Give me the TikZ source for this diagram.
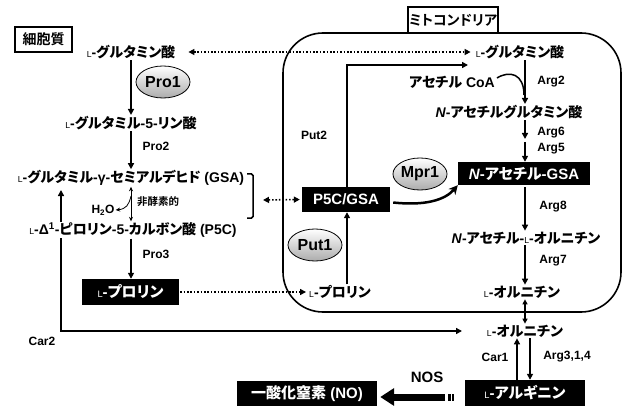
\documentclass[tikz,border=0pt]{standalone}
\usepackage{fontspec}
\usepackage{graphicx}
\setmainfont{Liberation Sans}
\newfontfamily\jp{Noto Sans CJK JP Bold}[RawFeature=+palt]
\usetikzlibrary{arrows.meta,shapes.geometric}
\newcommand{\Ls}{\scalebox{0.62}{\mdseries L}}
\begin{document}
\begin{tikzpicture}[x=1pt,y=-1pt,
  cmp/.style={font=\bfseries\fontsize{14}{16}\selectfont, inner sep=1pt},
  lab/.style={font=\bfseries\fontsize{12}{14}\selectfont, inner sep=1pt},
  blk/.style={fill=black, text=white, font=\bfseries\fontsize{15}{17}\selectfont, inner sep=0pt, minimum height=25pt},
  enz/.style={ellipse, draw, line width=0.8pt, top color=white, bottom color=gray!65, minimum width=54pt, minimum height=32pt, inner sep=0pt, font=\bfseries\fontsize{16}{18}\selectfont},
  ttl/.style={draw, line width=1.6pt, fill=white, font=\jp\fontsize{14}{16}\selectfont, inner sep=0pt},
  arr/.style={line width=1.5pt, -{Triangle[length=6pt,width=6pt]}},
  darr/.style={line width=1.5pt, {Triangle[length=6pt,width=6pt]}-{Triangle[length=6pt,width=6pt]}},
  dots/.style={line width=1.6pt, dash pattern=on 1.6pt off 1.8pt},
  tarr/.style={line width=0.8pt, {Stealth[length=4.5pt,width=4pt]}-{Stealth[length=4.5pt,width=4pt]}}
]
\useasboundingbox (0,0) rectangle (631,406);

% columns
\coordinate (xL) at (131,0);
\coordinate (xM) at (525,0);
\coordinate (xP) at (347,0);
\coordinate (xC) at (517,0);
\coordinate (xA) at (530,0);

% Car2 path (drawn first, passes behind the P5C text)
\coordinate (c2top) at (61,190);
\coordinate (c2bot) at (61,331);
\coordinate (c2end) at (462,331);
\draw[darr] (c2top) -- (c2bot) -- (c2end);

% mitochondria
\node[draw, rounded corners=40pt, line width=1.6pt, minimum width=338pt, minimum height=279pt] (mito) at (452,172.5) {};
\node[ttl, minimum width=90pt, minimum height=26pt] (mtitle) at (453,20) {ミトコンドリア};
\node[ttl, minimum width=57pt, minimum height=25pt] (cyto) at (43.5,39.5) {細胞質};

% cytoplasm column
\node[cmp] (glu1) at (131,52) {\Ls-{\jp グルタミン酸}};
\node[cmp] (g5p) at (131,123) {\Ls-{\jp グルタミル}-5-{\jp リン酸}};
\node[cmp] (gsa) at (131,178) {\Ls-{\jp グルタミル}-γ-{\jp セミアルデヒド} (GSA)};
\node[cmp, fill=white] (p5c) at (133,230) {\Ls-Δ\textsuperscript{1}-{\jp ピロリン}-5-{\jp カルボン酸} (P5C)};
\node[blk, minimum width=97pt, minimum height=26pt] (pro1) at (130.5,292) {\Ls-{\jp プロリン}};

\node[enz] (epro1) at (163,82) {Pro1};
\node[lab] (pro2) at (156,146) {Pro2};
\node[lab] (pro3) at (156,254) {Pro3};
\node[lab] (h2o) at (103,210) {H\textsubscript{2}O};
\node[lab, font=\jp\fontsize{10.5}{12}\selectfont] (nonenz) at (158,202) {非酵素的};
\node[lab] (car2) at (42,341) {Car2};

% mitochondria contents
\node[cmp] (glu2) at (520,52) {\Ls-{\jp グルタミン酸}};
\node[cmp] (acoa) at (452,82) {{\jp アセチル} CoA};
\node[lab] (arg2) at (551,82) {Arg2};
\node[cmp] (nag) at (509,112) {\textit{N}-{\jp アセチルグルタミン酸}};
\node[lab] (arg6) at (551,133) {Arg6};
\node[lab] (arg5) at (551,149) {Arg5};
\node[blk, minimum width=132pt, minimum height=23pt] (nagsa) at (524,173.5) {\textit{N}-{\jp アセチル}-GSA};
\node[blk, minimum width=88pt] (p5cgsa) at (346,199.5) {P5C/GSA};
\node[enz] (empr1) at (420,174) {Mpr1};
\node[enz] (eput1) at (315,245) {Put1};
\node[lab] (put2) at (314,135) {Put2};
\node[lab] (arg8) at (553,207) {Arg8};
\node[cmp] (nao) at (526,238) {\textit{N}-{\jp アセチル}-\Ls-{\jp オルニチン}};
\node[lab] (arg7) at (553,261) {Arg7};
\node[cmp] (pro2m) at (340,292) {\Ls-{\jp プロリン}};
\node[cmp] (orn1) at (522,292) {\Ls-{\jp オルニチン}};

% outside bottom
\node[cmp] (orn2) at (525,331) {\Ls-{\jp オルニチン}};
\node[lab] (car1) at (495,357) {Car1};
\node[lab] (arg314) at (567,357) {Arg3,1,4};
\node[font=\bfseries\fontsize{15}{17}\selectfont, inner sep=1pt] (nos) at (427,377) {NOS};
\node[blk, minimum width=120pt, minimum height=26pt] (argn) at (525,393) {\Ls-{\jp アルギニン}};
\node[blk, minimum width=140pt, minimum height=25pt] (no) at (307,393.5) {{\jp 一酸化窒素} (NO)};

% cytoplasm arrows
\draw[arr] (glu1.south -| xL) -- (g5p.north -| xL);
\draw[arr] (g5p.south -| xL) -- (gsa.north -| xL);
\draw[tarr] (gsa.south -| xL) -- (p5c.north -| xL);
\coordinate (hst) at (131,196);
\draw[line width=0.8pt, -{Stealth[length=4.5pt,width=4pt]}] (hst) .. controls (129,205) and (126,209) .. (h2o.east);
\draw[arr] (p5c.south -| xL) -- (pro1.north -| xL);

% bracket
\draw[line width=1.5pt, rounded corners=1.5pt] (247,174) -- (253,174) -- (253,218) -- (247,218);
\coordinate (brk) at (263,200);

% dotted transports
\draw[dots, {Triangle[length=6pt,width=6pt]}-{Triangle[length=6pt,width=6pt]}, shorten <=12pt, shorten >=4pt] (glu1.east) -- (glu2.west);
\draw[dots, {Triangle[length=6pt,width=6pt]}-{Triangle[length=6pt,width=6pt]}, shorten >=2pt] (brk) -- (p5cgsa.west);
\draw[dots, -{Triangle[length=6pt,width=6pt]}, shorten <=1pt, shorten >=2pt] (pro1.east) -- (pro2m.west);

% mitochondria arrows
\draw[arr] (pro2m.north -| xP) -- (p5cgsa.south -| xP);
\coordinate (put2end) at (468,65);
\draw[arr] (p5cgsa.north -| xP) -- (xP |- put2end) -- (put2end);
\draw[arr] (glu2.south -| xM) -- (nag.north -| xM);
\coordinate (acend) at (524,95);
\draw[line width=1.5pt] ([shift={(1,-4)}]acoa.east) .. controls (510,70) and (524,74) .. (acend);
\coordinate (a6end) at (525,139);
\coordinate (a5st) at (525,142);
\draw[arr] (nag.south -| xM) -- (a6end);
\draw[arr] (a5st) -- (nagsa.north -| xM);
\draw[arr, shorten <=2pt] (nagsa.south -| xM) -- (nao.north -| xM);
\draw[arr] (nao.south -| xM) -- (orn1.north -| xM);
\draw[line width=1.2pt, {Triangle[length=5pt,width=5pt]}-{Triangle[length=5pt,width=5pt]}] (orn1.south -| xM) -- (orn2.north -| xM);
\draw[line width=2.5pt, -{Stealth[length=9pt,width=9pt]}] ([shift={(3,3)}]p5cgsa.east) .. controls (425,206) and (445,200) .. (nagsa.south west);

% arginine
\draw[arr] (argn.north -| xC) -- (orn2.south -| xC);
\draw[arr] (orn2.south -| xA) -- (argn.north -| xA);

% NOS arrow
\coordinate (nosT) at (445,397);
\draw[line width=7pt, -{Triangle[length=14pt,width=17pt]}] (nosT) -- ([xshift=3pt]no.east |- nosT);
\fill (447.5,393.5) rectangle (450.5,400.5);
\fill (452,393.5) rectangle (454,400.5);
\end{tikzpicture}
\end{document}
